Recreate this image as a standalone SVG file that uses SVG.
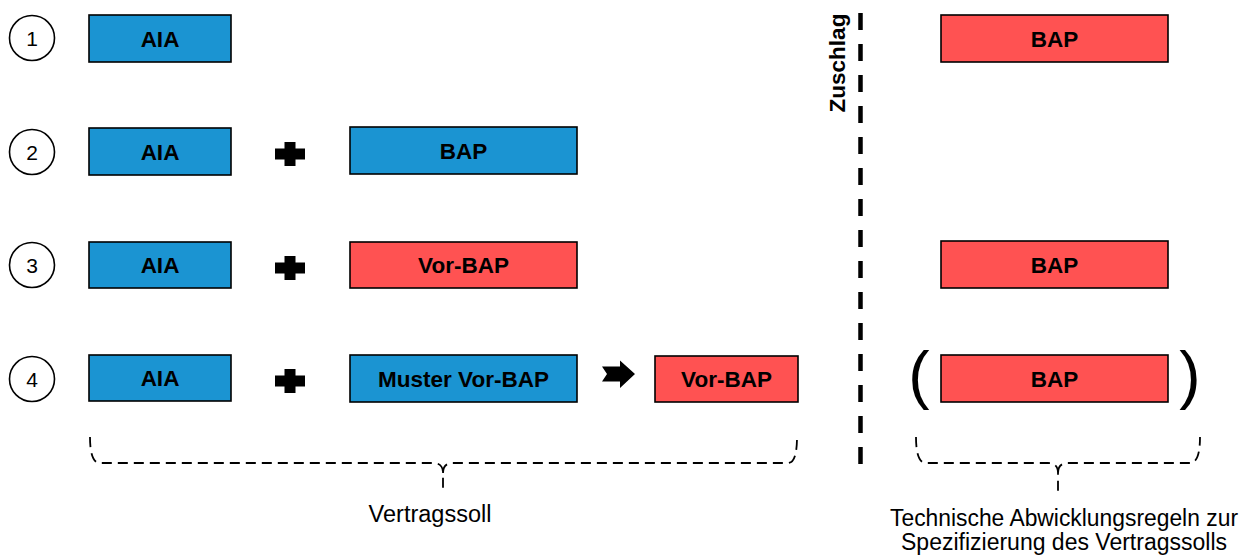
<svg xmlns="http://www.w3.org/2000/svg" width="1246" height="555" viewBox="0 0 1246 555">
<style>
.blue{fill:#1B94D2;stroke:#000;stroke-width:1.6}
.red{fill:#FF5252;stroke:#000;stroke-width:1.6}
.lbl{font-family:"Liberation Sans",Arial,sans-serif;font-weight:bold;font-size:22.5px;fill:#000;text-anchor:middle}
.num{font-family:"Liberation Sans",Arial,sans-serif;font-size:21px;fill:#000;text-anchor:middle}
.circ{fill:#fff;stroke:#000;stroke-width:1.6}
.txt{font-family:"Liberation Sans",Arial,sans-serif;font-size:23px;fill:#000;text-anchor:middle}
.brace{fill:none;stroke:#000;stroke-width:1.8;stroke-dasharray:10 6}
.paren{font-family:"Liberation Sans",Arial,sans-serif;font-size:64px;fill:#000;text-anchor:middle}
</style>
<defs>
<polygon id="plus" points="-5.5,-12 5.5,-12 5.5,-5.5 15,-5.5 15,5.5 5.5,5.5 5.5,12 -5.5,12 -5.5,5.5 -15,5.5 -15,-5.5 -5.5,-5.5"/>
</defs>

<g id="row1">
<g id="c1"><circle class="circ" cx="32" cy="38" r="22.5"/><text class="num" x="32" y="45.5">1</text></g>
<g id="aia1"><rect class="blue" x="89" y="15" width="142" height="47"/><text class="lbl" x="160" y="46.5">AIA</text></g>
</g>

<g id="row2">
<g id="c2"><circle class="circ" cx="32" cy="152" r="22.5"/><text class="num" x="32" y="159.5">2</text></g>
<g id="aia2"><rect class="blue" x="89" y="128" width="142" height="47"/><text class="lbl" x="160" y="159.5">AIA</text></g>
<g id="plus2"><use href="#plus" x="290" y="154"/></g>
<g id="bap2"><rect class="blue" x="350" y="127" width="227" height="47"/><text class="lbl" x="463.5" y="158.5">BAP</text></g>
</g>

<g id="row3">
<g id="c3"><circle class="circ" cx="32" cy="265" r="22.5"/><text class="num" x="32" y="272.5">3</text></g>
<g id="aia3"><rect class="blue" x="89" y="242" width="142" height="46"/><text class="lbl" x="160" y="273">AIA</text></g>
<g id="plus3"><use href="#plus" x="290" y="268"/></g>
<g id="vorbap3"><rect class="red" x="350" y="242" width="227" height="46"/><text class="lbl" x="463.5" y="273">Vor-BAP</text></g>
</g>

<g id="row4">
<g id="c4"><circle class="circ" cx="32" cy="379" r="22.5"/><text class="num" x="32" y="386.5">4</text></g>
<g id="aia4"><rect class="blue" x="89" y="355" width="142" height="46"/><text class="lbl" x="160" y="386">AIA</text></g>
<g id="plus4"><use href="#plus" x="290" y="381"/></g>
<g id="muster4"><rect class="blue" x="350" y="355" width="227" height="47"/><text class="lbl" x="463.5" y="386.5">Muster Vor-BAP</text></g>
<g id="arrow4"><polygon points="602,366.5 620,366.5 620,360.5 635,374 620,388 620,381.5 602,381.5 607,374" fill="#000"/></g>
<g id="vorbap4"><rect class="red" x="655" y="356" width="143" height="46"/><text class="lbl" x="726.5" y="387">Vor-BAP</text></g>
</g>

<g id="zuschlag">
<line x1="860.5" y1="13" x2="860.5" y2="470" stroke="#000" stroke-width="4.5" stroke-dasharray="17 14"/>
<text class="lbl" transform="translate(845,63) rotate(-90)" x="0" y="0">Zuschlag</text>
</g>

<g id="right">
<g id="bapR1"><rect class="red" x="941" y="15" width="227" height="47"/><text class="lbl" x="1054.5" y="46.5">BAP</text></g>
<g id="bapR3"><rect class="red" x="941" y="241" width="227" height="47"/><text class="lbl" x="1054.5" y="272.5">BAP</text></g>
<g id="bapR4"><rect class="red" x="941" y="355" width="227" height="47"/><text class="lbl" x="1054.5" y="386.5">BAP</text>
<text class="paren" x="919" y="397">(</text><text class="paren" x="1190" y="397">)</text></g>
</g>

<g id="connectors">
<path class="brace" d="M90,437 Q90,463 100,463 L433,463 Q443,463 443,473 L443,489 M443,473 Q443,463 453,463 L788,463 Q797,463 797,437"/>
<path class="brace" d="M916,437 Q916,463 926,463 L1048,463 Q1058,463 1058,473 L1058,492 M1058,473 Q1058,463 1068,463 L1190,463 Q1200,463 1200,437"/>
</g>

<g id="labels">
<text class="txt" x="430" y="522" style="font-size:23.5px">Vertragssoll</text>
<text class="txt" x="1064" y="526" textLength="348" lengthAdjust="spacingAndGlyphs">Technische Abwicklungsregeln zur</text>
<text class="txt" x="1064" y="550">Spezifizierung des Vertragssolls</text>
</g>
</svg>
